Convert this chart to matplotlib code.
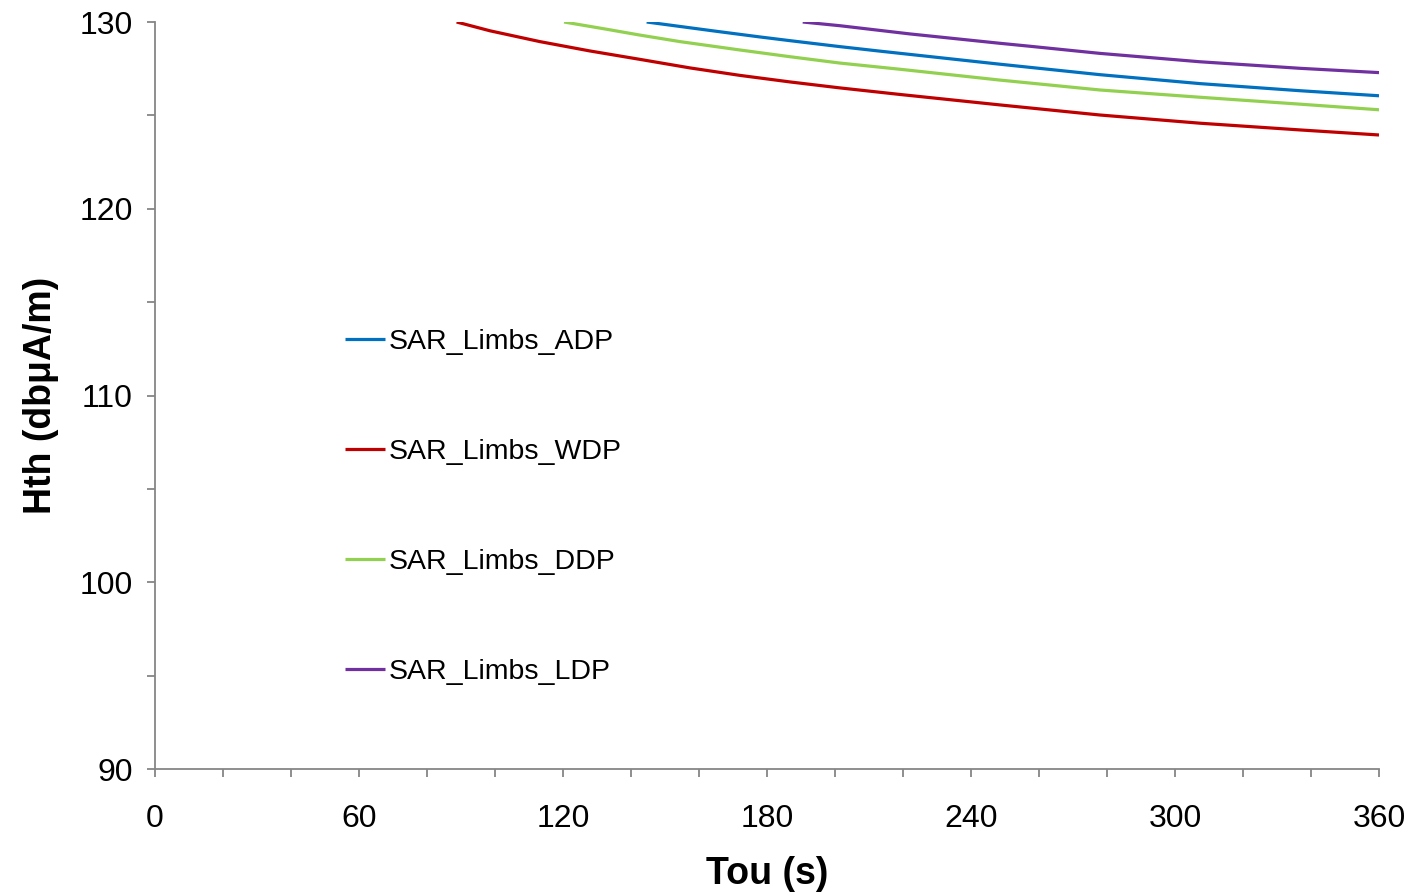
import numpy as np
import matplotlib.pyplot as plt
from matplotlib.ticker import MultipleLocator

plt.rcParams['font.family'] = ['Liberation Sans', 'DejaVu Sans']

# Values
tou_adp = [144.6, 165.2, 177.9, 186.8, 201.5, 213.2, 248.5, 257.4, 277.9, 307.4, 336.8, 360]
hth_adp = [130.0, 129.50, 129.20, 129.00, 128.68, 128.44, 127.74, 127.57, 127.18, 126.70, 126.32, 126.05]

tou_wdp = [88.7, 98.5, 113.2, 127.9, 142.6, 157.4, 172.1, 186.8, 201.5, 219.1, 248.5, 277.9, 307.4, 336.8, 360]
hth_wdp = [130.0, 129.53, 128.95, 128.45, 128.00, 127.54, 127.14, 126.79, 126.47, 126.12, 125.56, 125.02, 124.58, 124.22, 123.95]

tou_ddp = [120.3, 132.9, 142.6, 154.4, 172.1, 186.8, 201.5, 219.1, 248.5, 277.9, 307.4, 336.8, 360]
hth_ddp = [130.0, 129.61, 129.30, 128.95, 128.50, 128.14, 127.80, 127.47, 126.89, 126.36, 125.97, 125.60, 125.30]

tou_ldp = [190.5, 201.5, 213.2, 222.1, 248.5, 257.4, 277.9, 307.4, 336.8, 360]
hth_ldp = [130.0, 129.80, 129.55, 129.36, 128.86, 128.70, 128.32, 127.87, 127.52, 127.29]

fig = plt.figure(figsize=(14.12, 8.96), dpi=100)
ax = fig.add_axes([155 / 1412, 1 - 769 / 896, (1379 - 155) / 1412, (769 - 22) / 896])

lw = 2.3
kw = dict(lw=lw, solid_joinstyle='round', solid_capstyle='butt')
ax.plot(tou_adp, hth_adp, color='#0070C0', label='SAR_Limbs_ADP', **kw)
ax.plot(tou_wdp, hth_wdp, color='#C00000', label='SAR_Limbs_WDP', **kw)
ax.plot(tou_ddp, hth_ddp, color='#92D050', label='SAR_Limbs_DDP', **kw)
ax.plot(tou_ldp, hth_ldp, color='#7030A0', label='SAR_Limbs_LDP', **kw)

ax.set_xlim(0, 360)
ax.set_ylim(90, 130)
ax.xaxis.set_major_locator(MultipleLocator(60))
ax.xaxis.set_minor_locator(MultipleLocator(20))
ax.yaxis.set_major_locator(MultipleLocator(10))
ax.yaxis.set_minor_locator(MultipleLocator(5))

for s in ['top', 'right']:
    ax.spines[s].set_visible(False)
for s in ['left', 'bottom']:
    ax.spines[s].set_color('#868686')
    ax.spines[s].set_linewidth(1.3)

ax.tick_params(axis='both', which='both', direction='out', length=6, width=1.3,
               color='#868686', labelsize=23)
ax.tick_params(axis='x', which='major', pad=19)
ax.tick_params(axis='y', which='major', pad=10)

ax.set_xlabel('Tou (s)', fontsize=27, fontweight='bold', labelpad=16)
ax.set_ylabel('Hth (dbμA/m)', fontsize=27, fontweight='bold', labelpad=15)

ax.legend(loc='upper left', bbox_to_anchor=(345 / 1412, 1 - 329 / 896),
          bbox_transform=fig.transFigure, frameon=False, fontsize=20.5,
          handlelength=1.42, handletextpad=0.12, labelspacing=2.95,
          borderpad=0, borderaxespad=0)

fig.savefig('out.png', dpi=100)
